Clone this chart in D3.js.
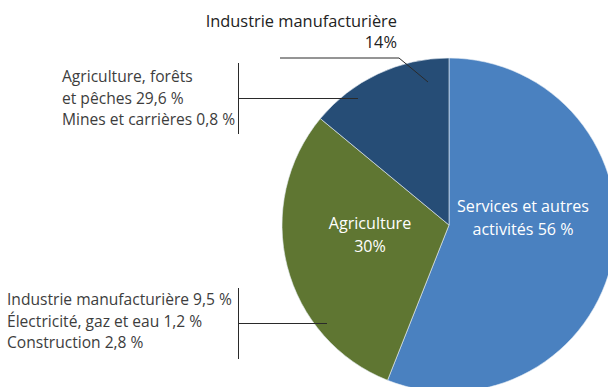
<!DOCTYPE html>
<html>
<head>
<meta charset="utf-8">
<script src="https://cdn.jsdelivr.net/npm/d3@7"></script>
<style>
  html, body { margin: 0; padding: 0; background: #fff; }
  svg { display: block; font-family: "Open Sans", Lato, sans-serif; }
</style>
</head>
<body>
<svg id="chart" width="608" height="387"></svg>
<script>
// Sector shares (%)
const categories = ["Services et autres activités", "Agriculture", "Industrie manufacturière"];
const values = [56, 30, 14];
const colors = ["#4a81c0", "#5f7632", "#264d76"];

// Labels drawn inside the slices
const innerLabels = [
  ["Services et autres", "activités 56 %"],
  ["Agriculture", "30%"],
  []
];

// Detail breakdowns attached to slices
const agriDetail = ["Agriculture, forêts", "et pêches 29,6 %", "Mines et carrières 0,8 %"];
const industryDetail = ["Industrie manufacturière 9,5 %", "Électricité, gaz et eau 1,2 %", "Construction 2,8 %"];
const topLabel = ["Industrie manufacturière", "14%"];

const svg = d3.select("#chart");
const cx = 449, cy = 225, r = 167;

const pie = d3.pie().sort(null).value(d => d)(values);
const arc = d3.arc().innerRadius(0).outerRadius(r);

const g = svg.append("g").attr("transform", `translate(${cx},${cy})`);
g.selectAll("path")
  .data(pie)
  .join("path")
  .attr("d", arc)
  .attr("fill", (d, i) => colors[i])
  .attr("stroke", "#e8eef5")
  .attr("stroke-width", 0.6);

// Inner labels
const innerPos = [[74, -13], [-79, 4]];
innerLabels.forEach((lines, i) => {
  if (!lines.length) return;
  const t = g.append("text")
    .attr("text-anchor", "middle")
    .attr("fill", "#fff")
    .attr("font-size", 16.1);
  lines.forEach((s, k) => {
    t.append("tspan")
      .attr("x", innerPos[i][0])
      .attr("y", innerPos[i][1] + k * 23)
      .text(s);
  });
});

const ink = "#3d3d3d";
const lineCol = "#2a2a2a";

// Top label with leader
const topText = svg.append("text").attr("fill", "#222").attr("font-size", 16.4).attr("text-anchor", "end");
topLabel.forEach((s, k) => {
  topText.append("tspan").attr("x", 397).attr("y", 27 + k * 21).text(s);
});
svg.append("polyline")
  .attr("points", "280,58 399,58 428,82")
  .attr("fill", "none")
  .attr("stroke", lineCol)
  .attr("stroke-width", 1);

// Bracketed detail blocks
function detailBlock(lines, x, y0, bx, by0, by1, hy, hx1) {
  const t = svg.append("text").attr("fill", ink).attr("font-size", 15.6);
  lines.forEach((s, k) => {
    t.append("tspan").attr("x", x).attr("y", y0 + k * 21.5).text(s);
  });
  svg.append("line").attr("x1", bx).attr("x2", bx).attr("y1", by0).attr("y2", by1)
    .attr("stroke", lineCol).attr("stroke-width", 1);
  svg.append("line").attr("x1", bx).attr("x2", hx1).attr("y1", hy).attr("y2", hy)
    .attr("stroke", lineCol).attr("stroke-width", 1);
}
detailBlock(agriDetail, 62, 82, 238.5, 63, 134, 98.5, 358);
detailBlock(industryDetail, 7, 305, 238.5, 288, 359, 323.5, 327);
</script>
</body>
</html>
